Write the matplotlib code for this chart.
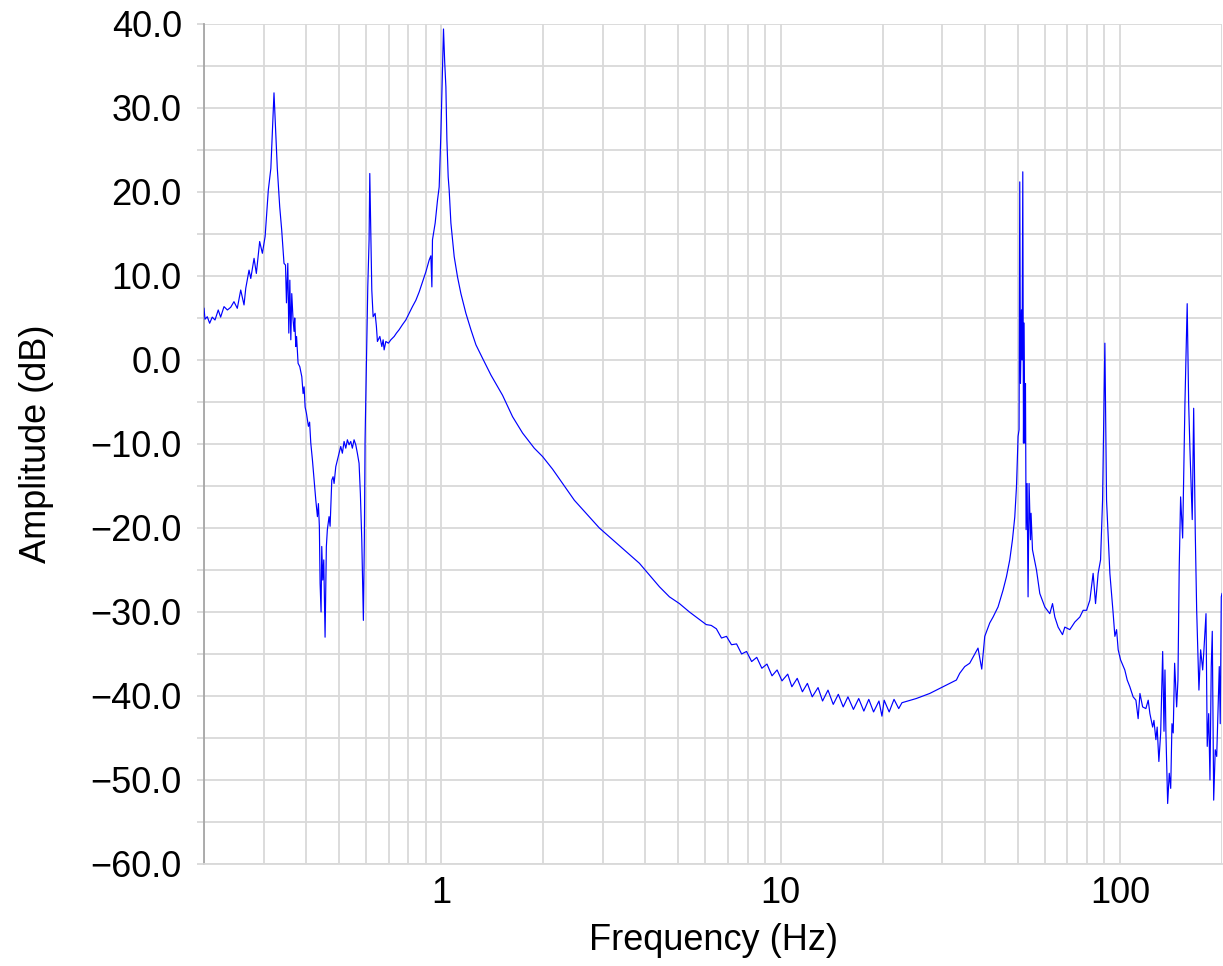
import matplotlib
matplotlib.use("Agg")
import matplotlib.pyplot as plt
from matplotlib.ticker import FixedLocator, FuncFormatter, NullFormatter, MultipleLocator

plt.rcParams['font.family'] = ['Liberation Sans', 'DejaVu Sans']

freq_hz = [
    0.200, 0.2014, 0.2045, 0.2078, 0.2115, 0.2155, 0.2203, 0.2239, 0.2291, 0.2344,
    0.2397, 0.2451, 0.2507, 0.2566, 0.2624, 0.2655, 0.2715, 0.2747, 0.2809, 0.2853,
    0.2918, 0.2972, 0.3028, 0.3094, 0.3148, 0.3216, 0.3289, 0.3343, 0.3388,
    0.3442, 0.3477, 0.3500, 0.3532, 0.3556, 0.3581, 0.3605, 0.3628, 0.3660, 0.3685,
    0.3702, 0.3728, 0.3748, 0.3787, 0.3831, 0.3884, 0.3918, 0.3945, 0.3972, 0.4008,
    0.4062, 0.4095, 0.4128, 0.4174, 0.4222, 0.4271, 0.4318, 0.4347, 0.4375, 0.4397,
    0.4426, 0.4447, 0.4477, 0.4508, 0.4548, 0.4588, 0.4619, 0.4673, 0.4706, 0.4760,
    0.4802, 0.4835, 0.4891, 0.4944, 0.5001, 0.5059, 0.5114, 0.5174, 0.5234, 0.5291,
    0.5352, 0.5414, 0.5473, 0.5537, 0.5601, 0.5662, 0.5728, 0.5779, 0.5834, 0.5898,
    0.5937, 0.5966, 0.6019, 0.6077, 0.6131, 0.6160, 0.6245, 0.6301, 0.6387, 0.6443,
    0.6488, 0.6595, 0.6685, 0.6744, 0.6790, 0.6869, 0.6991, 0.7106, 0.7269, 0.7382,
    0.7517, 0.7688, 0.7866, 0.8045, 0.8228, 0.8420, 0.8613, 0.8808, 0.9014, 0.9218,
    0.9324, 0.9388, 0.9426, 0.9600, 0.9752, 0.9865, 0.9980, 1.0068, 1.0158, 1.0240,
    1.0324, 1.0395, 1.0486, 1.0558, 1.0681, 1.0798, 1.0923, 1.1050, 1.1170, 1.1432,
    1.1826, 1.2236, 1.2660, 1.3241, 1.4018, 1.5164, 1.6230, 1.7373, 1.8807, 1.9900,
    2.1296, 2.4685, 2.9245, 3.3500, 3.8377, 4.1083, 4.3975, 4.7064, 5.0364, 5.3891,
    6.04, 6.25, 6.47, 6.70, 6.93, 7.17, 7.42, 7.68, 7.94, 8.22,
    8.51, 8.81, 9.12, 9.44, 9.77, 10.1, 10.5, 10.8, 11.2, 11.6,
    12.0, 12.4, 12.9, 13.3, 13.8, 14.3, 14.8, 15.3, 15.8, 16.4,
    17.0, 17.6, 18.2, 18.8, 19.5, 19.9, 20.2, 20.9, 21.6, 22.3,
    22.8, 25.13, 27.52, 30.11, 32.98,
    33.73, 34.90, 36.10, 38.19, 39.17, 39.98, 41.36, 42.30, 43.75, 45.26,
    46.32, 47.37, 48.25, 49.01, 49.58, 50.12, 50.46, 50.70, 50.94, 51.29,
    51.50, 51.75, 51.99, 52.21, 52.46, 52.70, 52.92, 53.28, 53.64, 54.01,
    54.53, 54.74, 55.27, 55.76, 56.79, 58.08, 60.09, 62.16, 63.32, 64.32,
    65.77, 67.76, 68.83, 71.20, 73.66, 76.21, 77.94, 79.77, 81.57, 83.41,
    84.78, 86.30, 87.72, 88.92, 90.32, 91.36, 93.44, 95.56, 96.67, 97.79,
    98.86, 100.48, 103.4, 105.1, 107.0, 109.4, 111.5, 113.2, 114.6, 116.7,
    119.3, 121.2, 122.6, 124.9, 126.0, 127.7, 128.8, 130.3, 131.9, 133.7,
    134.9, 135.8, 136.7, 138.3, 139.8, 141.2, 142.4, 143.6, 145.0, 147.0,
    148.3, 149.6, 151.0, 153.1, 155.5, 157.9, 159.5, 160.9, 163.4, 165.0,
    166.8, 168.4, 171.0, 173.0, 175.4, 176.9, 179.4, 180.9, 182.7, 184.3,
    185.9, 187.2, 189.0, 191.0, 192.9, 196.3, 197.6, 199.0, 200.0,
]

amplitude_db = [
    6.15, 4.85, 5.15, 4.37, 5.10, 4.76, 5.95, 5.10, 6.35, 5.95,
    6.27, 6.94, 6.15, 8.33, 6.55, 8.53, 10.7, 9.70, 12.1, 10.3,
    14.1, 12.7, 14.7, 20.2, 22.8, 31.8, 22.8, 18.25, 15.5,
    11.5, 11.3, 6.8, 11.5, 3.2, 9.5, 2.4, 7.9, 4.8, 3.4,
    5.0, 1.6, 2.8, -0.4, -0.8, -2.0, -4.0, -3.2, -5.6, -6.35,
    -7.9, -7.4, -9.9, -11.9, -14.3, -16.7, -18.65, -17.1, -19.8, -26.6,
    -30.0, -22.2, -26.2, -23.8, -33.0, -22.2, -20.2, -18.65, -19.8, -14.3,
    -13.9, -14.7, -12.7, -11.9, -11.1, -10.3, -11.1, -9.7, -10.5, -9.5,
    -10.1, -9.7, -10.5, -9.5, -10.1, -11.1, -12.3, -15.9, -21.4, -31.0,
    -21.4, -9.5, -0.8, 8.7, 14.3, 22.2, 8.3, 5.15, 5.55, 4.0,
    2.2, 2.8, 1.6, 2.4, 1.2, 2.2, 2.0, 2.4, 2.8, 3.2,
    3.6, 4.2, 4.76, 5.55, 6.35, 7.1, 8.1, 9.3, 10.5, 11.9,
    12.4, 8.7, 14.3, 16.3, 19.0, 20.6, 27.0, 33.0, 39.4, 35.5,
    32.5, 26.2, 21.8, 20.2, 16.3, 14.3, 12.3, 11.1, 9.9, 7.9,
    5.55, 3.6, 1.8, 0.2, -1.8, -4.2, -6.75, -8.7, -10.5, -11.5,
    -13.0, -16.7, -20.0, -22.1, -24.2, -25.6, -27.0, -28.2, -29.0, -30.0,
    -31.5, -31.6, -32.0, -33.1, -32.9, -33.9, -33.8, -35.0, -34.7, -35.9,
    -35.4, -36.7, -36.2, -37.6, -36.9, -38.2, -37.4, -38.9, -37.9, -39.5,
    -38.5, -40.1, -39.0, -40.6, -39.3, -41.0, -39.8, -41.3, -40.1, -41.6,
    -40.3, -41.8, -40.4, -41.9, -40.6, -42.4, -40.5, -41.9, -40.4, -41.5,
    -40.8, -40.3, -39.7, -38.9, -38.1,
    -37.3, -36.5, -36.1, -34.3, -36.8, -32.9, -31.3, -30.6, -29.4, -27.4,
    -25.8, -23.8, -21.4, -18.7, -15.1, -9.1, -8.3, 21.2, -2.8, 5.95,
    0.0, 22.4, -9.9, 4.4, -9.9, -2.8, -20.2, -14.7, -28.2, -14.7,
    -21.4, -18.25, -22.6, -23.4, -25.0, -27.8, -29.4, -30.2, -29.0, -30.6,
    -31.8, -32.7, -31.8, -32.1, -31.2, -30.6, -29.8, -29.8, -28.6, -25.4,
    -29.0, -25.4, -23.8, -16.7, 2.0, -16.7, -25.4, -30.2, -32.9, -32.1,
    -34.5, -35.7, -36.9, -38.1, -38.9, -40.1, -40.5, -42.7, -39.7, -41.3,
    -41.5, -40.5, -42.1, -43.7, -42.9, -45.2, -43.7, -47.8, -44.4, -34.7,
    -44.2, -36.9, -44.5, -52.8, -49.2, -51.0, -43.3, -44.4, -36.1, -41.3,
    -38.1, -24.6, -16.3, -21.2, -5.2, 6.7, -5.2, -10.7, -19.0, -5.75,
    -20.6, -29.8, -39.3, -34.5, -36.9, -34.5, -30.2, -46.0, -42.1, -50.0,
    -36.5, -32.3, -52.4, -46.4, -47.2, -36.5, -43.3, -28.2, -27.8,
]

x_major_ticks = [1, 10, 100]
x_tick_labels = ["1", "10", "100"]
y_limits = (-60, 40)
x_limits = (0.2, 200)

fig = plt.figure(figsize=(12.23, 9.66), dpi=100)
ax = fig.add_axes([0.1668, 0.1056, 0.8324, 0.8696])

ax.plot(freq_hz, amplitude_db, color="#0000ff", linewidth=0.85, zorder=3)

ax.set_xscale("log")
ax.set_xlim(*x_limits)
ax.set_ylim(*y_limits)

ax.xaxis.set_major_locator(FixedLocator(x_major_ticks))
ax.xaxis.set_major_formatter(FuncFormatter(lambda v, p: x_tick_labels[x_major_ticks.index(round(v))] if round(v) in x_major_ticks else ""))
minor_x = [m * 10.0 ** e for e in (-1, 0, 1, 2) for m in range(2, 10)]
minor_x = [v for v in minor_x if 0.2 <= v <= 200]
ax.xaxis.set_minor_locator(FixedLocator(minor_x))
ax.xaxis.set_minor_formatter(NullFormatter())

ax.yaxis.set_major_locator(MultipleLocator(10))
ax.yaxis.set_minor_locator(MultipleLocator(5))
ax.yaxis.set_major_formatter(FuncFormatter(lambda v, p: ("\u2212" if v < 0 else "") + "%.1f" % abs(v)))

ax.grid(True, which="both", color="#d9d9d9", linewidth=1.3, zorder=0)
ax.set_axisbelow(True)

for s in ["top", "right"]:
    ax.spines[s].set_visible(False)
ax.spines["left"].set_color("#a6a6a6")
ax.spines["left"].set_linewidth(1.3)
ax.spines["bottom"].set_color("#d9d9d9")
ax.spines["bottom"].set_linewidth(1.3)

ax.tick_params(axis="y", which="both", length=5, color="#d9d9d9", width=1.3, labelsize=26, pad=11)
ax.tick_params(axis="x", which="both", length=0, labelsize=26, pad=9)

ax.set_xlabel("Frequency (Hz)", fontsize=26, labelpad=8)
ax.set_ylabel("Amplitude (dB)", fontsize=26, labelpad=26)

fig.savefig("out.png", dpi=100)
